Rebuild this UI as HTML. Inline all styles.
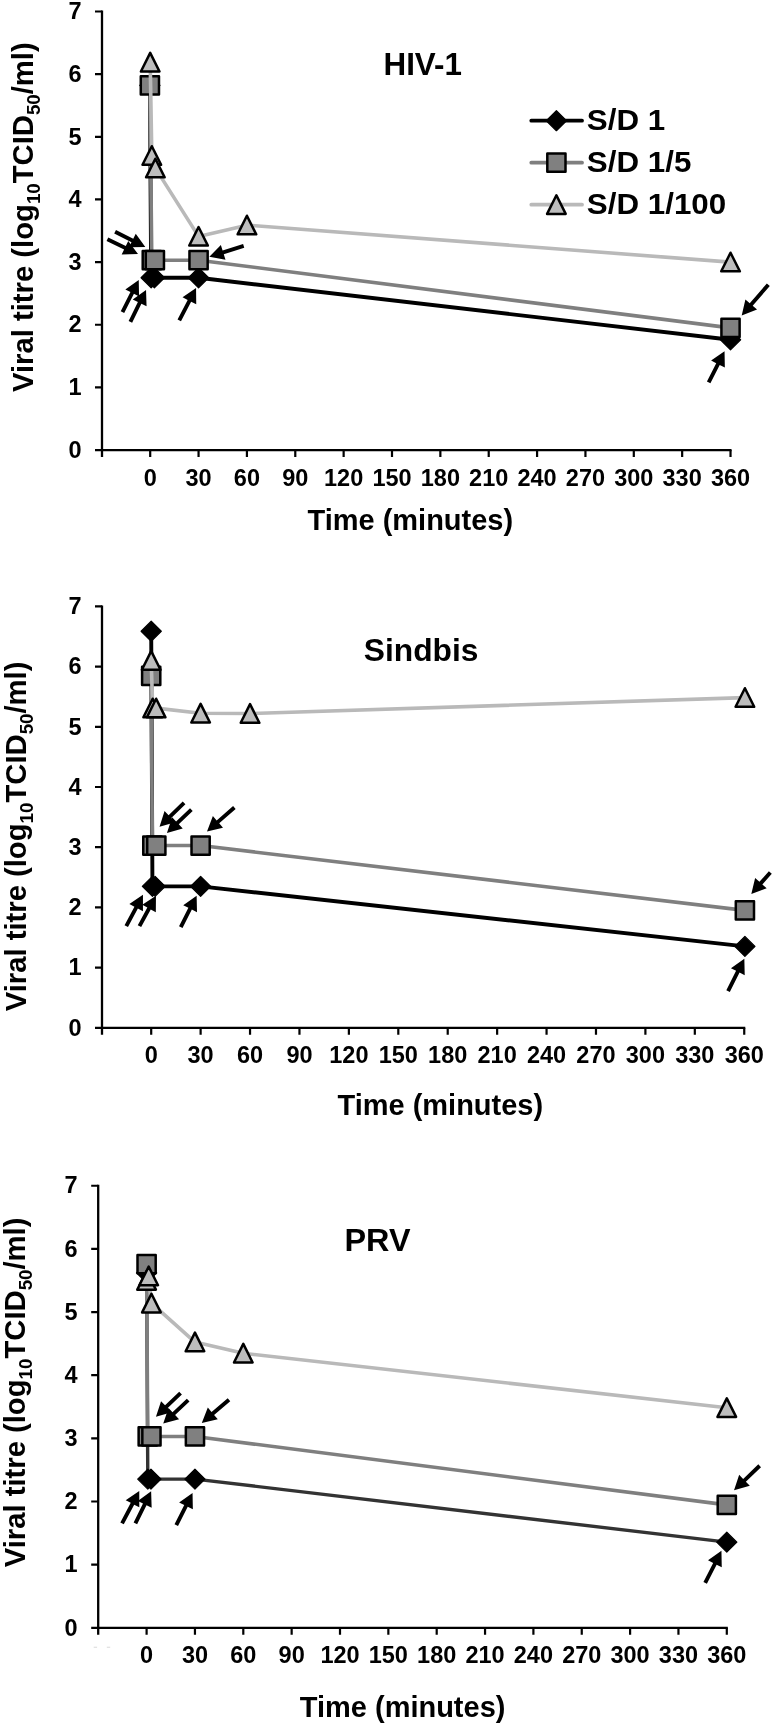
<!DOCTYPE html>
<html lang="en"><head><meta charset="utf-8"><title>Viral titre vs time</title>
<style>
html,body{margin:0;padding:0;background:#fff}
svg{display:block;filter:grayscale(1) blur(0.45px)}
text{font-family:'Liberation Sans', sans-serif;font-weight:bold;fill:#000}
</style></head><body>
<svg width="774" height="1725" viewBox="0 0 774 1725">
<rect width="774" height="1725" fill="#fff"/>
<polyline points="149.88,85.43 151.17,277.76 154.39,277.76 198.56,277.76 730.52,339.79" fill="none" stroke="#000000" stroke-width="3.9" stroke-linejoin="round"/>
<polygon points="149.88,75.43 159.98,85.43 149.88,95.43 139.78,85.43" fill="#000" stroke="#000" stroke-width="1.2" stroke-linejoin="round"/>
<polygon points="151.17,267.76 161.27,277.76 151.17,287.76 141.07,277.76" fill="#000" stroke="#000" stroke-width="1.2" stroke-linejoin="round"/>
<polygon points="154.39,267.76 164.49,277.76 154.39,287.76 144.29,277.76" fill="#000" stroke="#000" stroke-width="1.2" stroke-linejoin="round"/>
<polygon points="198.56,267.76 208.66,277.76 198.56,287.76 188.46,277.76" fill="#000" stroke="#000" stroke-width="1.2" stroke-linejoin="round"/>
<polygon points="730.52,329.79 740.62,339.79 730.52,349.79 720.42,339.79" fill="#000" stroke="#000" stroke-width="1.2" stroke-linejoin="round"/>
<polyline points="149.88,85.43 151.81,260.22 154.87,260.22 198.56,260.22 730.52,327.88" fill="none" stroke="#7f7f7f" stroke-width="3.6" stroke-linejoin="round"/>
<rect x="140.78" y="76.33" width="18.2" height="18.2" fill="#808080" stroke="#000" stroke-width="2.5" stroke-linejoin="round"/>
<rect x="142.71" y="251.12" width="18.2" height="18.2" fill="#808080" stroke="#000" stroke-width="2.5" stroke-linejoin="round"/>
<rect x="145.77" y="251.12" width="18.2" height="18.2" fill="#808080" stroke="#000" stroke-width="2.5" stroke-linejoin="round"/>
<rect x="189.46" y="251.12" width="18.2" height="18.2" fill="#808080" stroke="#000" stroke-width="2.5" stroke-linejoin="round"/>
<rect x="721.42" y="318.78" width="18.2" height="18.2" fill="#808080" stroke="#000" stroke-width="2.5" stroke-linejoin="round"/>
<polyline points="150.2,62.25 151.81,155.6 155.36,168.12 198.56,236.41 246.92,225.14 730.52,262.1" fill="none" stroke="#b9b9b9" stroke-width="3.6" stroke-linejoin="round"/>
<polygon points="150.2,52.85 159.5,71.45 140.9,71.45" fill="#bdbdbd" stroke="#000" stroke-width="2.5" stroke-linejoin="round"/>
<polygon points="151.81,146.2 161.11,164.8 142.51,164.8" fill="#bdbdbd" stroke="#000" stroke-width="2.5" stroke-linejoin="round"/>
<polygon points="155.36,158.72 164.66,177.32 146.06,177.32" fill="#bdbdbd" stroke="#000" stroke-width="2.5" stroke-linejoin="round"/>
<polygon points="198.56,227.01 207.86,245.61 189.26,245.61" fill="#bdbdbd" stroke="#000" stroke-width="2.5" stroke-linejoin="round"/>
<polygon points="246.92,215.74 256.22,234.34 237.62,234.34" fill="#bdbdbd" stroke="#000" stroke-width="2.5" stroke-linejoin="round"/>
<polygon points="730.52,252.7 739.82,271.3 721.22,271.3" fill="#bdbdbd" stroke="#000" stroke-width="2.5" stroke-linejoin="round"/>
<path d="M102 10.5 V457.05 M95 450.05 H731.52" stroke="#000" stroke-width="2.3" fill="none"/>
<path d="M95 387.4 H102 M95 324.75 H102 M95 262.1 H102 M95 199.45 H102 M95 136.8 H102 M95 74.15 H102 M95 11.5 H102 M150.2 450.05 V457.05 M198.56 450.05 V457.05 M246.92 450.05 V457.05 M295.28 450.05 V457.05 M343.64 450.05 V457.05 M392 450.05 V457.05 M440.36 450.05 V457.05 M488.72 450.05 V457.05 M537.08 450.05 V457.05 M585.44 450.05 V457.05 M633.8 450.05 V457.05 M682.16 450.05 V457.05 M730.52 450.05 V457.05 " stroke="#000" stroke-width="2.2" fill="none"/>
<g font-size="23.5" text-anchor="end">
<text x="81.5" y="457.75">0</text>
<text x="81.5" y="395.1">1</text>
<text x="81.5" y="332.45">2</text>
<text x="81.5" y="269.8">3</text>
<text x="81.5" y="207.15">4</text>
<text x="81.5" y="144.5">5</text>
<text x="81.5" y="81.85">6</text>
<text x="81.5" y="19.2">7</text>
</g><g font-size="23.5" text-anchor="middle">
<text x="150.2" y="485.55">0</text>
<text x="198.56" y="485.55">30</text>
<text x="246.92" y="485.55">60</text>
<text x="295.28" y="485.55">90</text>
<text x="343.64" y="485.55">120</text>
<text x="392" y="485.55">150</text>
<text x="440.36" y="485.55">180</text>
<text x="488.72" y="485.55">210</text>
<text x="537.08" y="485.55">240</text>
<text x="585.44" y="485.55">270</text>
<text x="633.8" y="485.55">300</text>
<text x="682.16" y="485.55">330</text>
<text x="730.52" y="485.55">360</text>
</g>
<text transform="translate(383.5 75.2) scale(0.98 1)" font-size="32">HIV-1</text>
<text transform="translate(307.5 529.6) scale(0.973 1)" font-size="29.8">Time (minutes)</text>
<text transform="translate(33.4 392) rotate(-90) scale(0.975 1)" font-size="30">Viral titre (log<tspan font-size="19.2" dy="7">10</tspan><tspan dy="-7">TCID</tspan><tspan font-size="19.2" dy="7">50</tspan><tspan dy="-7">/ml)</tspan></text>
<polygon points="114.22,233.54 131.48,242.29 128.98,247.24 145.3,247.1 135.75,233.86 133.25,238.81 115.98,230.06" fill="#000"/>
<polygon points="106.55,240.95 124.11,249.51 121.68,254.5 138,254.1 128.25,241.01 125.82,246 108.25,237.45" fill="#000"/>
<polygon points="243.09,243.99 222.6,250.44 220.87,244.96 209.36,256.66 225.5,259.65 223.77,254.16 244.26,247.71" fill="#000"/>
<polygon points="124.21,313.03 133.93,293.85 139.06,296.44 138.74,280.03 125.32,289.49 130.45,292.08 120.73,311.26" fill="#000"/>
<polygon points="132.13,322.71 141.4,303.8 146.56,306.33 146.03,289.92 132.73,299.55 137.9,302.08 128.63,320.99" fill="#000"/>
<polygon points="181,321.34 191.13,301.71 196.24,304.35 196.05,287.93 182.56,297.29 187.67,299.92 177.54,319.55" fill="#000"/>
<polygon points="766.85,283.44 749.74,303.18 745.4,299.41 741.71,315.41 757.03,309.5 752.69,305.73 769.8,286" fill="#000"/>
<polygon points="710.41,383.23 719.71,364.94 724.84,367.55 724.54,351.13 711.11,360.57 716.23,363.17 706.94,381.46" fill="#000"/>
<line x1="531.3" x2="582" y1="120.7" y2="120.7" stroke="#000000" stroke-width="3.8" stroke-linecap="round"/>
<polygon points="556.4,110.7 566.5,120.7 556.4,130.7 546.3,120.7" fill="#000" stroke="#000" stroke-width="1.2" stroke-linejoin="round"/>
<text transform="translate(586.8 129.7) scale(1.045 1)" font-size="30">S/D 1</text>
<line x1="531.3" x2="582" y1="162.7" y2="162.7" stroke="#7f7f7f" stroke-width="3.8" stroke-linecap="round"/>
<rect x="547.3" y="153.6" width="18.2" height="18.2" fill="#808080" stroke="#000" stroke-width="2.5" stroke-linejoin="round"/>
<text transform="translate(586.8 171.7) scale(1.045 1)" font-size="30">S/D 1/5</text>
<line x1="531.3" x2="582" y1="204.7" y2="204.7" stroke="#b9b9b9" stroke-width="3.8" stroke-linecap="round"/>
<polygon points="556.4,195.3 565.7,213.9 547.1,213.9" fill="#bdbdbd" stroke="#000" stroke-width="2.5" stroke-linejoin="round"/>
<text transform="translate(586.8 213.7) scale(1.045 1)" font-size="30">S/D 1/100</text>
<polyline points="151.2,631.26 152.44,886.33 155.15,886.33 200.62,886.33 744.9,946.41" fill="none" stroke="#000000" stroke-width="3.9" stroke-linejoin="round"/>
<polygon points="151.2,621.26 161.3,631.26 151.2,641.26 141.1,631.26" fill="#000" stroke="#000" stroke-width="1.2" stroke-linejoin="round"/>
<polygon points="152.44,876.33 162.54,886.33 152.44,896.33 142.34,886.33" fill="#000" stroke="#000" stroke-width="1.2" stroke-linejoin="round"/>
<polygon points="155.15,876.33 165.25,886.33 155.15,896.33 145.05,886.33" fill="#000" stroke="#000" stroke-width="1.2" stroke-linejoin="round"/>
<polygon points="200.62,876.33 210.72,886.33 200.62,896.33 190.52,886.33" fill="#000" stroke="#000" stroke-width="1.2" stroke-linejoin="round"/>
<polygon points="744.9,936.41 755,946.41 744.9,956.41 734.8,946.41" fill="#000" stroke="#000" stroke-width="1.2" stroke-linejoin="round"/>
<polyline points="151.2,675.93 152.35,845.57 156.31,845.57 200.62,845.57 744.9,910.41" fill="none" stroke="#7f7f7f" stroke-width="3.6" stroke-linejoin="round"/>
<rect x="142.1" y="666.83" width="18.2" height="18.2" fill="#808080" stroke="#000" stroke-width="2.5" stroke-linejoin="round"/>
<rect x="143.25" y="836.47" width="18.2" height="18.2" fill="#808080" stroke="#000" stroke-width="2.5" stroke-linejoin="round"/>
<rect x="147.21" y="836.47" width="18.2" height="18.2" fill="#808080" stroke="#000" stroke-width="2.5" stroke-linejoin="round"/>
<rect x="191.52" y="836.47" width="18.2" height="18.2" fill="#808080" stroke="#000" stroke-width="2.5" stroke-linejoin="round"/>
<rect x="735.8" y="901.31" width="18.2" height="18.2" fill="#808080" stroke="#000" stroke-width="2.5" stroke-linejoin="round"/>
<polyline points="151.2,660.58 152.68,708.14 156.14,708.14 200.62,713.25 250.04,713.56 744.9,697.6" fill="none" stroke="#b9b9b9" stroke-width="3.6" stroke-linejoin="round"/>
<polygon points="151.2,651.18 160.5,669.78 141.9,669.78" fill="#bdbdbd" stroke="#000" stroke-width="2.5" stroke-linejoin="round"/>
<polygon points="152.68,698.74 161.98,717.34 143.38,717.34" fill="#bdbdbd" stroke="#000" stroke-width="2.5" stroke-linejoin="round"/>
<polygon points="156.14,698.74 165.44,717.34 146.84,717.34" fill="#bdbdbd" stroke="#000" stroke-width="2.5" stroke-linejoin="round"/>
<polygon points="200.62,703.85 209.92,722.45 191.32,722.45" fill="#bdbdbd" stroke="#000" stroke-width="2.5" stroke-linejoin="round"/>
<polygon points="250.04,704.16 259.34,722.76 240.74,722.76" fill="#bdbdbd" stroke="#000" stroke-width="2.5" stroke-linejoin="round"/>
<polygon points="744.9,688.2 754.2,706.8 735.6,706.8" fill="#bdbdbd" stroke="#000" stroke-width="2.5" stroke-linejoin="round"/>
<path d="M102 605.4 V1034.8 M95 1027.8 H745.24" stroke="#000" stroke-width="2.3" fill="none"/>
<path d="M95 967.6 H102 M95 907.4 H102 M95 847.2 H102 M95 787 H102 M95 726.8 H102 M95 666.6 H102 M95 606.4 H102 M151.2 1027.8 V1034.8 M200.62 1027.8 V1034.8 M250.04 1027.8 V1034.8 M299.46 1027.8 V1034.8 M348.88 1027.8 V1034.8 M398.3 1027.8 V1034.8 M447.72 1027.8 V1034.8 M497.14 1027.8 V1034.8 M546.56 1027.8 V1034.8 M595.98 1027.8 V1034.8 M645.4 1027.8 V1034.8 M694.82 1027.8 V1034.8 M744.24 1027.8 V1034.8 " stroke="#000" stroke-width="2.2" fill="none"/>
<g font-size="23.5" text-anchor="end">
<text x="81.5" y="1035.5">0</text>
<text x="81.5" y="975.3">1</text>
<text x="81.5" y="915.1">2</text>
<text x="81.5" y="854.9">3</text>
<text x="81.5" y="794.7">4</text>
<text x="81.5" y="734.5">5</text>
<text x="81.5" y="674.3">6</text>
<text x="81.5" y="614.1">7</text>
</g><g font-size="23.5" text-anchor="middle">
<text x="151.2" y="1063.3">0</text>
<text x="200.62" y="1063.3">30</text>
<text x="250.04" y="1063.3">60</text>
<text x="299.46" y="1063.3">90</text>
<text x="348.88" y="1063.3">120</text>
<text x="398.3" y="1063.3">150</text>
<text x="447.72" y="1063.3">180</text>
<text x="497.14" y="1063.3">210</text>
<text x="546.56" y="1063.3">240</text>
<text x="595.98" y="1063.3">270</text>
<text x="645.4" y="1063.3">300</text>
<text x="694.82" y="1063.3">330</text>
<text x="744.24" y="1063.3">360</text>
</g>
<text transform="translate(363.8 660.9) scale(0.993 1)" font-size="32">Sindbis</text>
<text transform="translate(337.5 1114.8) scale(0.973 1)" font-size="29.8">Time (minutes)</text>
<text transform="translate(25.9 1011.3) rotate(-90) scale(0.975 1)" font-size="30">Viral titre (log<tspan font-size="19.2" dy="7">10</tspan><tspan dy="-7">TCID</tspan><tspan font-size="19.2" dy="7">50</tspan><tspan dy="-7">/ml)</tspan></text>
<polygon points="182.7,801.45 168.57,815.22 164.55,811.1 159.54,826.74 175.3,822.13 171.29,818.02 185.42,804.25" fill="#000"/>
<polygon points="190.02,808.24 176.09,821.51 172.12,817.35 166.93,832.93 182.74,828.5 178.78,824.34 192.71,811.07" fill="#000"/>
<polygon points="233.1,806.1 216.66,820.4 212.88,816.06 206.99,831.39 222.99,827.68 219.22,823.34 235.66,809.04" fill="#000"/>
<polygon points="127.99,927.06 137.88,908.46 142.95,911.16 142.96,894.74 129.36,903.93 134.43,906.63 124.54,925.23" fill="#000"/>
<polygon points="141.17,927.07 150.76,909.42 155.82,912.16 155.97,895.75 142.29,904.81 147.34,907.56 137.75,925.21" fill="#000"/>
<polygon points="182.52,928.12 191.86,909.56 197,912.14 196.64,895.73 183.24,905.22 188.38,907.8 179.03,926.37" fill="#000"/>
<polygon points="768.87,871.14 759.43,881.83 755.12,878.03 751.31,894 766.67,888.22 762.36,884.41 771.79,873.71" fill="#000"/>
<polygon points="729.82,991.92 739.56,972.56 744.7,975.14 744.34,958.73 730.94,968.22 736.08,970.8 726.33,990.17" fill="#000"/>
<polyline points="146.6,1272.9 147.81,1479.08 150.95,1479.08 194.95,1479.08 726.8,1542.17" fill="none" stroke="#333" stroke-width="3.4" stroke-linejoin="round"/>
<polygon points="146.6,1262.9 156.7,1272.9 146.6,1282.9 136.5,1272.9" fill="#000" stroke="#000" stroke-width="1.2" stroke-linejoin="round"/>
<polygon points="147.81,1469.08 157.91,1479.08 147.81,1489.08 137.71,1479.08" fill="#000" stroke="#000" stroke-width="1.2" stroke-linejoin="round"/>
<polygon points="150.95,1469.08 161.05,1479.08 150.95,1489.08 140.85,1479.08" fill="#000" stroke="#000" stroke-width="1.2" stroke-linejoin="round"/>
<polygon points="194.95,1469.08 205.05,1479.08 194.95,1489.08 184.85,1479.08" fill="#000" stroke="#000" stroke-width="1.2" stroke-linejoin="round"/>
<polygon points="726.8,1532.17 736.9,1542.17 726.8,1552.17 716.7,1542.17" fill="#000" stroke="#000" stroke-width="1.2" stroke-linejoin="round"/>
<polyline points="146.6,1264.06 147.73,1436.46 151.44,1436.46 194.95,1436.46 726.8,1504.91" fill="none" stroke="#7f7f7f" stroke-width="3.6" stroke-linejoin="round"/>
<rect x="137.5" y="1254.96" width="18.2" height="18.2" fill="#808080" stroke="#000" stroke-width="2.5" stroke-linejoin="round"/>
<rect x="138.63" y="1427.36" width="18.2" height="18.2" fill="#808080" stroke="#000" stroke-width="2.5" stroke-linejoin="round"/>
<rect x="142.34" y="1427.36" width="18.2" height="18.2" fill="#808080" stroke="#000" stroke-width="2.5" stroke-linejoin="round"/>
<rect x="185.85" y="1427.36" width="18.2" height="18.2" fill="#808080" stroke="#000" stroke-width="2.5" stroke-linejoin="round"/>
<rect x="717.7" y="1495.81" width="18.2" height="18.2" fill="#808080" stroke="#000" stroke-width="2.5" stroke-linejoin="round"/>
<polyline points="146.6,1280.47 148.7,1276.05 151.44,1303.21 194.95,1342.05 243.3,1353.29 726.8,1407.72" fill="none" stroke="#b9b9b9" stroke-width="3.6" stroke-linejoin="round"/>
<polygon points="146.6,1271.07 155.9,1289.67 137.3,1289.67" fill="#bdbdbd" stroke="#000" stroke-width="2.5" stroke-linejoin="round"/>
<polygon points="148.7,1266.65 158,1285.25 139.4,1285.25" fill="#bdbdbd" stroke="#000" stroke-width="2.5" stroke-linejoin="round"/>
<polygon points="151.44,1293.81 160.74,1312.41 142.13,1312.41" fill="#bdbdbd" stroke="#000" stroke-width="2.5" stroke-linejoin="round"/>
<polygon points="194.95,1332.65 204.25,1351.25 185.65,1351.25" fill="#bdbdbd" stroke="#000" stroke-width="2.5" stroke-linejoin="round"/>
<polygon points="243.3,1343.89 252.6,1362.49 234,1362.49" fill="#bdbdbd" stroke="#000" stroke-width="2.5" stroke-linejoin="round"/>
<polygon points="726.8,1398.32 736.1,1416.92 717.5,1416.92" fill="#bdbdbd" stroke="#000" stroke-width="2.5" stroke-linejoin="round"/>
<path d="M98.2 1184.75 V1634.8 M91.2 1627.8 H727.8" stroke="#000" stroke-width="2.3" fill="none"/>
<path d="M91.2 1564.65 H98.2 M91.2 1501.5 H98.2 M91.2 1438.35 H98.2 M91.2 1375.2 H98.2 M91.2 1312.05 H98.2 M91.2 1248.9 H98.2 M91.2 1185.75 H98.2 M146.6 1627.8 V1634.8 M194.95 1627.8 V1634.8 M243.3 1627.8 V1634.8 M291.65 1627.8 V1634.8 M340 1627.8 V1634.8 M388.35 1627.8 V1634.8 M436.7 1627.8 V1634.8 M485.05 1627.8 V1634.8 M533.4 1627.8 V1634.8 M581.75 1627.8 V1634.8 M630.1 1627.8 V1634.8 M678.45 1627.8 V1634.8 M726.8 1627.8 V1634.8 " stroke="#000" stroke-width="2.2" fill="none"/>
<g font-size="23.5" text-anchor="end">
<text x="77.7" y="1635.5">0</text>
<text x="77.7" y="1572.35">1</text>
<text x="77.7" y="1509.2">2</text>
<text x="77.7" y="1446.05">3</text>
<text x="77.7" y="1382.9">4</text>
<text x="77.7" y="1319.75">5</text>
<text x="77.7" y="1256.6">6</text>
<text x="77.7" y="1193.45">7</text>
</g><g font-size="23.5" text-anchor="middle">
<text x="146.6" y="1663.3">0</text>
<text x="194.95" y="1663.3">30</text>
<text x="243.3" y="1663.3">60</text>
<text x="291.65" y="1663.3">90</text>
<text x="340" y="1663.3">120</text>
<text x="388.35" y="1663.3">150</text>
<text x="436.7" y="1663.3">180</text>
<text x="485.05" y="1663.3">210</text>
<text x="533.4" y="1663.3">240</text>
<text x="581.75" y="1663.3">270</text>
<text x="630.1" y="1663.3">300</text>
<text x="678.45" y="1663.3">330</text>
<text x="726.8" y="1663.3">360</text>
</g>
<text transform="translate(344.5 1251.3) scale(1.012 1)" font-size="32">PRV</text>
<text transform="translate(299.8 1716.6) scale(0.973 1)" font-size="29.8">Time (minutes)</text>
<text transform="translate(25.3 1567.3) rotate(-90) scale(0.975 1)" font-size="30">Viral titre (log<tspan font-size="19.2" dy="7">10</tspan><tspan dy="-7">TCID</tspan><tspan font-size="19.2" dy="7">50</tspan><tspan dy="-7">/ml)</tspan></text>
<polygon points="179.21,1391.65 165.04,1405.28 161.05,1401.13 155.94,1416.73 171.72,1412.23 167.74,1408.09 181.91,1394.46" fill="#000"/>
<polygon points="186.83,1398.64 172.45,1412.17 168.51,1407.98 163.23,1423.52 179.06,1419.19 175.12,1415.01 189.5,1401.48" fill="#000"/>
<polygon points="227.71,1398.19 211.55,1411.98 207.82,1407.61 201.79,1422.88 217.82,1419.32 214.08,1414.95 230.25,1401.16" fill="#000"/>
<polygon points="123.79,1524.35 134.2,1504.67 139.29,1507.36 139.26,1490.94 125.67,1500.16 130.76,1502.84 120.34,1522.53" fill="#000"/>
<polygon points="137.13,1524.31 146.5,1505.2 151.66,1507.73 151.13,1491.32 137.83,1500.95 142.99,1503.48 133.63,1522.59" fill="#000"/>
<polygon points="178.01,1525.93 187.73,1506.75 192.86,1509.34 192.54,1492.93 179.12,1502.39 184.25,1504.98 174.53,1524.16" fill="#000"/>
<polygon points="758.31,1464.35 743.15,1478.89 739.17,1474.74 734.03,1490.33 749.83,1485.85 745.85,1481.7 761.01,1467.16" fill="#000"/>
<polygon points="706.91,1583.83 716.63,1564.65 721.76,1567.24 721.44,1550.83 708.02,1560.29 713.15,1562.88 703.43,1582.06" fill="#000"/>
<rect x="93.7" y="1646.7" width="3.4" height="1.1" fill="#dcdcdc"/><rect x="106.8" y="1646.7" width="3.4" height="1.1" fill="#dcdcdc"/>
</svg>
</body></html>
